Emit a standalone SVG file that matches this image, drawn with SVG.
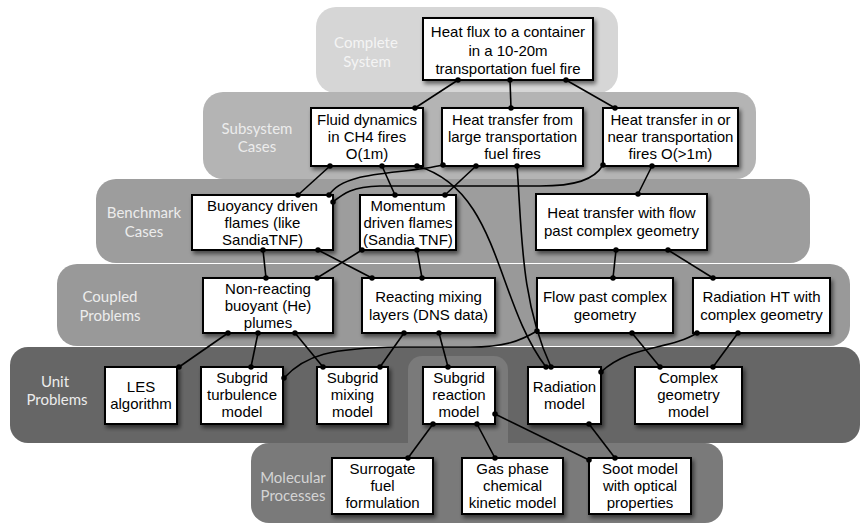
<svg xmlns="http://www.w3.org/2000/svg" width="861" height="525" viewBox="0 0 861 525">
<style>
.band-label{font-family:Lato,"Open Sans","DejaVu Sans",sans-serif;font-size:15px;text-anchor:middle;fill:#ececec}
.box{fill:#fff;stroke:#000;stroke-width:2}
.t{font-family:"Liberation Sans",Arial,sans-serif;font-size:15px;text-anchor:middle;fill:#000}
.c{fill:none;stroke:#000;stroke-width:1.6;marker-start:url(#dot);marker-end:url(#dot)}
</style>
<defs>
<marker id="dot" viewBox="0 0 6 6" refX="3" refY="3" markerWidth="5.5" markerHeight="5.5" markerUnits="userSpaceOnUse"><circle cx="3" cy="3" r="3" fill="#000"/></marker>
<filter id="sh" x="-20%" y="-20%" width="140%" height="150%">
<feGaussianBlur in="SourceAlpha" stdDeviation="2.2"/>
<feOffset dx="1.5" dy="2.5" result="b"/>
<feComponentTransfer><feFuncA type="linear" slope="0.55"/></feComponentTransfer>
<feMerge><feMergeNode/><feMergeNode in="SourceGraphic"/></feMerge>
</filter>
</defs>
<g id="bands">
<rect x="316" y="7" width="302" height="86" rx="20" fill="#d6d6d6"/>
<rect x="203" y="92" width="553" height="87" rx="20" fill="#b4b4b4"/>
<rect x="96" y="179" width="714" height="84" rx="20" fill="#9d9d9d"/>
<rect x="57" y="264" width="793" height="82" rx="20" fill="#999999"/>
<rect x="10" y="347" width="850" height="96" rx="18" fill="#666666"/>
<rect x="251" y="443" width="472" height="80" rx="18" fill="#7a7a7a"/>
<rect x="408" y="356" width="100" height="110" rx="14" fill="#7a7a7a"/>
<text class="band-label" x="366" y="48" style="fill:#f4f4f4">Complete</text>
<text class="band-label" x="367" y="67" style="fill:#f4f4f4">System</text>
<text class="band-label" x="257" y="134">Subsystem</text>
<text class="band-label" x="257" y="152">Cases</text>
<text class="band-label" x="144" y="218">Benchmark</text>
<text class="band-label" x="144" y="237">Cases</text>
<text class="band-label" x="110" y="302">Coupled</text>
<text class="band-label" x="110" y="321">Problems</text>
<text class="band-label" x="55" y="387">Unit</text>
<text class="band-label" x="57" y="405">Problems</text>
<text class="band-label" x="293" y="483" style="fill:#d4d4d4">Molecular</text>
<text class="band-label" x="293" y="501" style="fill:#d4d4d4">Processes</text>
</g>
<g id="n_top"><rect class="box" filter="url(#sh)" x="423" y="18" width="170" height="62"/><text class="t" x="508" y="37">Heat flux to a container</text><text class="t" x="508" y="55.5">in a 10-20m</text><text class="t" x="508" y="74">transportation fuel fire</text></g>
<g id="n_fluid"><rect class="box" filter="url(#sh)" x="311" y="108" width="112" height="58"/><text class="t" x="367" y="125">Fluid dynamics</text><text class="t" x="367" y="142">in CH4 fires</text><text class="t" x="367" y="159">O(1m)</text></g>
<g id="n_htlarge"><rect class="box" filter="url(#sh)" x="442" y="108" width="141" height="58"/><text class="t" x="512.5" y="125">Heat transfer from</text><text class="t" x="512.5" y="142">large transportation</text><text class="t" x="512.5" y="159">fuel fires</text></g>
<g id="n_htnear"><rect class="box" filter="url(#sh)" x="603" y="108" width="135" height="58"/><text class="t" x="670.5" y="125">Heat transfer in or</text><text class="t" x="670.5" y="142">near transportation</text><text class="t" x="670.5" y="159">fires O(&gt;1m)</text></g>
<g id="n_buoy"><rect class="box" filter="url(#sh)" x="192" y="195" width="141" height="55"/><text class="t" x="262.5" y="210.5">Buoyancy driven</text><text class="t" x="262.5" y="227.5">flames (like</text><text class="t" x="262.5" y="244.5">SandiaTNF)</text></g>
<g id="n_mom"><rect class="box" filter="url(#sh)" x="360" y="195" width="96" height="55"/><text class="t" x="408" y="210.5">Momentum</text><text class="t" x="408" y="227.5">driven flames</text><text class="t" x="408" y="244.5">(Sandia TNF)</text></g>
<g id="n_htflow"><rect class="box" filter="url(#sh)" x="536" y="194" width="171" height="56"/><text class="t" x="621.5" y="218">Heat transfer with flow</text><text class="t" x="621.5" y="236">past complex geometry</text></g>
<g id="n_nonreact"><rect class="box" filter="url(#sh)" x="203" y="278" width="130" height="55"/><text class="t" x="268" y="293.5">Non-reacting</text><text class="t" x="268" y="310.5">buoyant (He)</text><text class="t" x="268" y="327.5">plumes</text></g>
<g id="n_react"><rect class="box" filter="url(#sh)" x="362" y="278" width="133" height="55"/><text class="t" x="428.5" y="301.5">Reacting mixing</text><text class="t" x="428.5" y="319.5">layers (DNS data)</text></g>
<g id="n_flow"><rect class="box" filter="url(#sh)" x="537" y="278" width="136" height="55"/><text class="t" x="605" y="301.5">Flow past complex</text><text class="t" x="605" y="319.5">geometry</text></g>
<g id="n_radht"><rect class="box" filter="url(#sh)" x="693" y="278" width="137" height="55"/><text class="t" x="761.5" y="301.5">Radiation HT with</text><text class="t" x="761.5" y="319.5">complex geometry</text></g>
<g id="n_les"><rect class="box" filter="url(#sh)" x="105" y="367" width="72" height="57"/><text class="t" x="141" y="391.5">LES</text><text class="t" x="141" y="408.5">algorithm</text></g>
<g id="n_sgturb"><rect class="box" filter="url(#sh)" x="201" y="367" width="82" height="57"/><text class="t" x="242" y="383">Subgrid</text><text class="t" x="242" y="400">turbulence</text><text class="t" x="242" y="417">model</text></g>
<g id="n_sgmix"><rect class="box" filter="url(#sh)" x="317" y="367" width="71" height="57"/><text class="t" x="352.5" y="383">Subgrid</text><text class="t" x="352.5" y="400">mixing</text><text class="t" x="352.5" y="417">model</text></g>
<g id="n_sgreact"><rect class="box" filter="url(#sh)" x="423" y="367" width="72" height="57"/><text class="t" x="459" y="383">Subgrid</text><text class="t" x="459" y="400">reaction</text><text class="t" x="459" y="417">model</text></g>
<g id="n_rad"><rect class="box" filter="url(#sh)" x="528" y="367" width="73" height="57"/><text class="t" x="564.5" y="391.5">Radiation</text><text class="t" x="564.5" y="408.5">model</text></g>
<g id="n_cgeo"><rect class="box" filter="url(#sh)" x="635" y="367" width="107" height="57"/><text class="t" x="688.5" y="383">Complex</text><text class="t" x="688.5" y="400">geometry</text><text class="t" x="688.5" y="417">model</text></g>
<g id="n_surr"><rect class="box" filter="url(#sh)" x="332" y="458" width="101" height="56"/><text class="t" x="382.5" y="474">Surrogate</text><text class="t" x="382.5" y="491">fuel</text><text class="t" x="382.5" y="508">formulation</text></g>
<g id="n_gas"><rect class="box" filter="url(#sh)" x="462" y="458" width="101" height="56"/><text class="t" x="512.5" y="474">Gas phase</text><text class="t" x="512.5" y="491">chemical</text><text class="t" x="512.5" y="508">kinetic model</text></g>
<g id="n_soot"><rect class="box" filter="url(#sh)" x="589" y="458" width="102" height="56"/><text class="t" x="640" y="474">Soot model</text><text class="t" x="640" y="491">with optical</text><text class="t" x="640" y="508">properties</text></g>
<g id="connectors">
<path class="c" d="M458,80 L415,108"/>
<path class="c" d="M510,80 L511,108"/>
<path class="c" d="M566,80 L615,108"/>
<path class="c" d="M330,166 L298,195"/>
<path class="c" d="M382,166 L395,195"/>
<path class="c" d="M417,166 C500,190 495,300 546,367"/>
<path class="c" d="M443,165 C400,175 345,170 329,195"/>
<path class="c" d="M476,166 L445,195"/>
<path class="c" d="M517,166 C522,230 520,300 551,367"/>
<path class="c" d="M603,165 C594,180 575,186 540,186 L380,186 C352,187 344,193 333,202"/>
<path class="c" d="M652,166 L638,194"/>
<path class="c" d="M263,250 L266,278"/>
<path class="c" d="M318,250 L372,278"/>
<path class="c" d="M362,250 L317,278"/>
<path class="c" d="M417,250 L422,278"/>
<path class="c" d="M616,250 L613,278"/>
<path class="c" d="M668,250 L713,278"/>
<path class="c" d="M228,333 L179,367"/>
<path class="c" d="M258,333 L251,367"/>
<path class="c" d="M295,333 L323,367"/>
<path class="c" d="M404,333 L380,367"/>
<path class="c" d="M439,333 L448,367"/>
<path class="c" d="M537,331 C520,341 505,347 470,347 L400,347 C330,348 305,355 284,378"/>
<path class="c" d="M632,333 L660,367"/>
<path class="c" d="M697,333 C670,350 630,345 601,372"/>
<path class="c" d="M738,333 L713,367"/>
<path class="c" d="M433,424 L408,458"/>
<path class="c" d="M477,424 L495,458"/>
<path class="c" d="M495,414 L589,460"/>
<path class="c" d="M589,424 L615,458"/>
</g>
</svg>
